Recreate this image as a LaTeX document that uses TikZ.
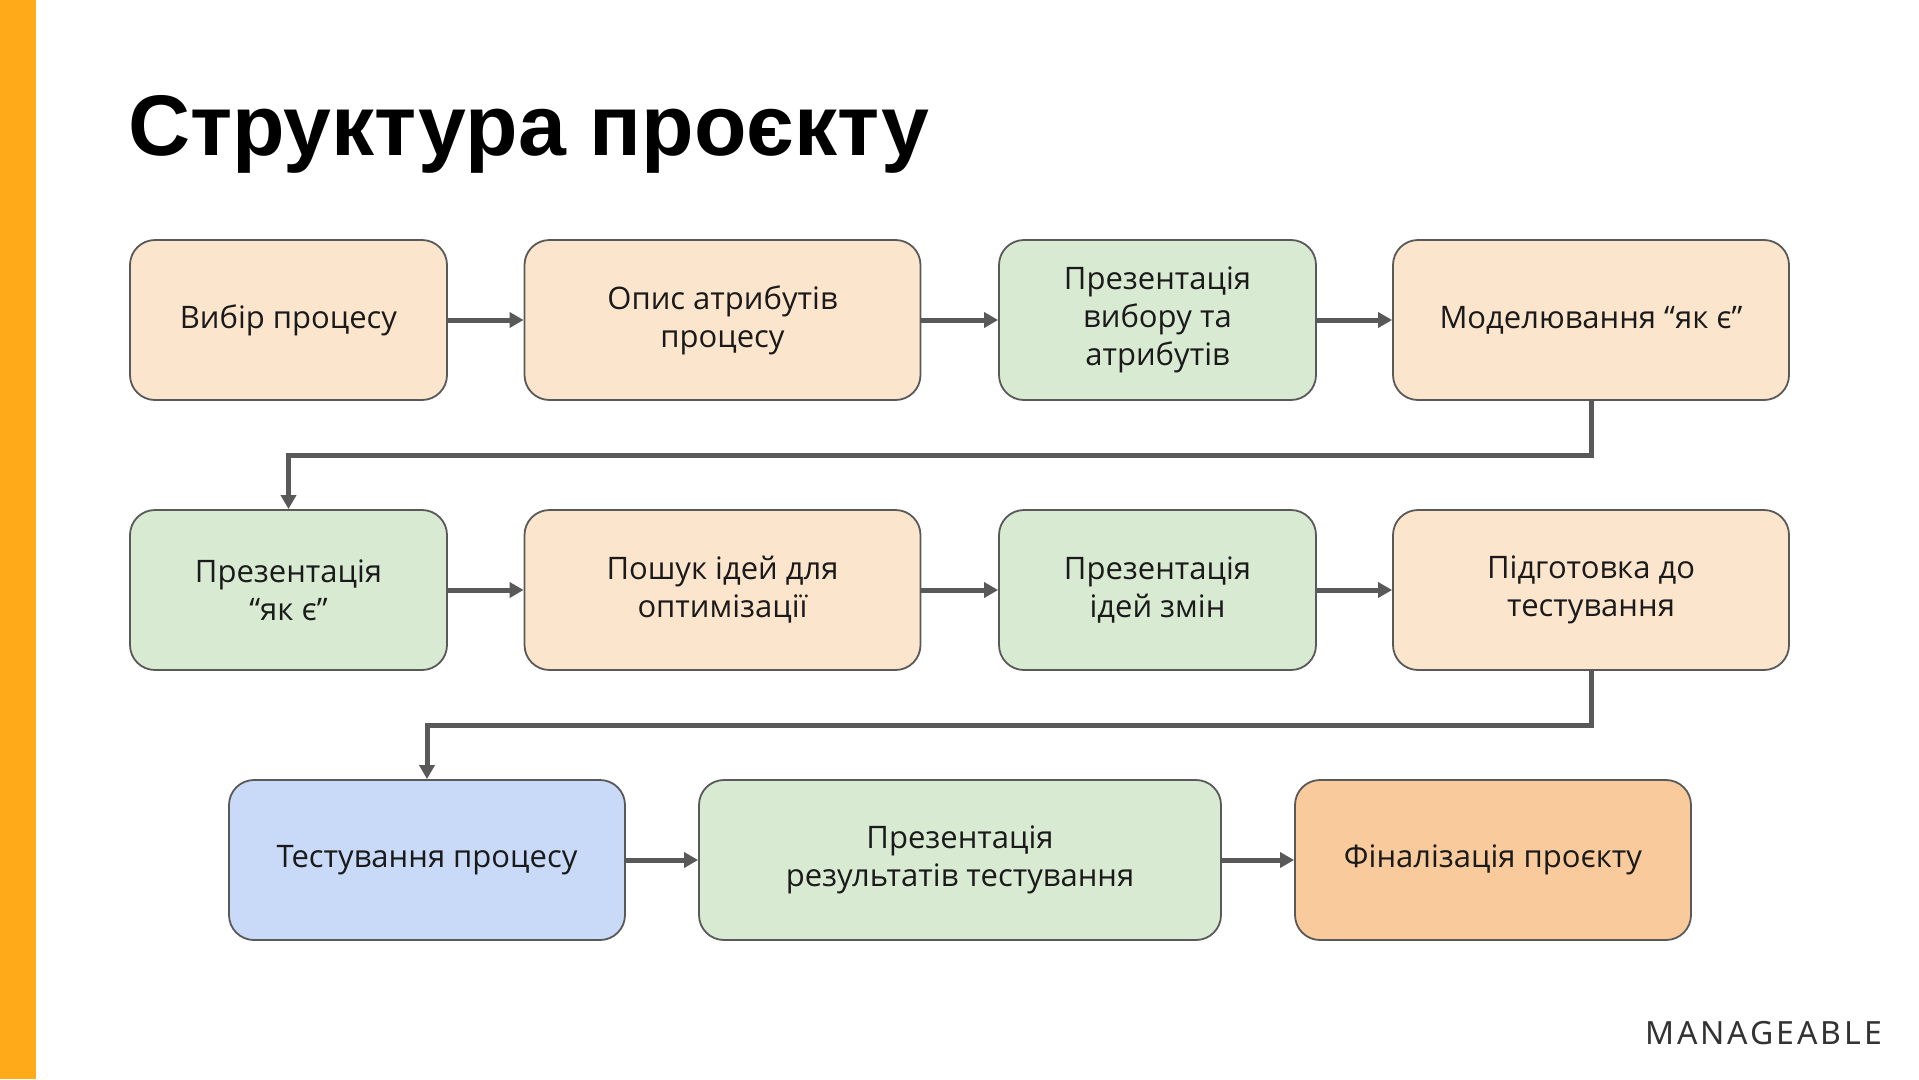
\documentclass[tikz,border=0pt]{standalone}
\usepackage{fontspec}
\setmainfont{Open Sans}
\newfontfamily\titlefont{Liberation Sans}
\newfontfamily\logofont[LetterSpace=9]{Noto Sans}
\usetikzlibrary{arrows.meta}
\definecolor{peach}{HTML}{FCE5CD}
\definecolor{mint}{HTML}{D9EAD3}
\definecolor{sky}{HTML}{C9DAF8}
\definecolor{apricot}{HTML}{F9CB9C}
\definecolor{edge}{HTML}{595959}
\definecolor{bar}{HTML}{FFAB19}
\definecolor{txt}{HTML}{1A1A1A}
\tikzset{
  box/.style={draw=edge, line width=1.8pt, rounded corners=25pt, align=center,
    text=txt, font=\fontsize{31}{38}\selectfont, inner sep=0pt},
  w317/.style={minimum width=317pt, minimum height=160pt},
  w396/.style={minimum width=396pt, minimum height=160pt},
  w522/.style={minimum width=522pt, minimum height=160pt},
  conn/.style={draw=edge, line width=5pt, -{Triangle[length=14pt,width=15pt]}},
}
\begin{document}
\begin{tikzpicture}[x=1pt,y=-1pt]
\useasboundingbox (0,0) rectangle (1919,1079);
\fill[white] (0,0) rectangle (1919,1079);
\fill[bar] (0,0) rectangle (36,1079);
\node[anchor=base west, inner sep=0pt, font=\titlefont\bfseries\fontsize{86}{96}\selectfont] (title) at (128,155) {Структура проєкту};
% row 1
\node[box,w317,fill=peach] (b1) at (288.5,320) {Вибір процесу};
\node[box,w396,fill=peach] (b2) at (722.5,320) {Опис атрибутів\\процесу};
\node[box,w317,fill=mint] (b3) at (1157.5,320) {Презентація\\вибору та\\атрибутів};
\node[box,w396,fill=peach] (b4) at (1591,320) {Моделювання “як є”};
% row 2
\node[box,w317,fill=mint] (b5) at (288.5,590) {Презентація\\“як є”};
\node[box,w396,fill=peach] (b6) at (722.5,590) {Пошук ідей для\\оптимізації};
\node[box,w317,fill=mint] (b7) at (1157.5,590) {Презентація\\ідей змін};
\node[box,w396,fill=peach] (b8) at (1591,590) {Підготовка до\\тестування};
% row 3
\node[box,w396,fill=sky] (b9) at (427,860) {Тестування процесу};
\node[box,w522,fill=mint] (b10) at (960,860) {Презентація\\результатів тестування};
\node[box,w396,fill=apricot] (b11) at (1493,860) {Фіналізація проєкту};
% connectors
\draw[conn] (b1) -- (b2);
\draw[conn] (b2) -- (b3);
\draw[conn] (b3) -- (b4);
\draw[conn] (b4.south) -- ++(0,55) -| (b5.north);
\draw[conn] (b5) -- (b6);
\draw[conn] (b6) -- (b7);
\draw[conn] (b7) -- (b8);
\draw[conn] (b8.south) -- ++(0,55) -| (b9.north);
\draw[conn] (b9) -- (b10);
\draw[conn] (b10) -- (b11);
\node[anchor=base east, inner sep=0pt, text=black!80, font=\logofont\fontsize{32}{36}\selectfont] (logo) at (1882,1044) {MANAGEABLE};
\end{tikzpicture}
\end{document}
